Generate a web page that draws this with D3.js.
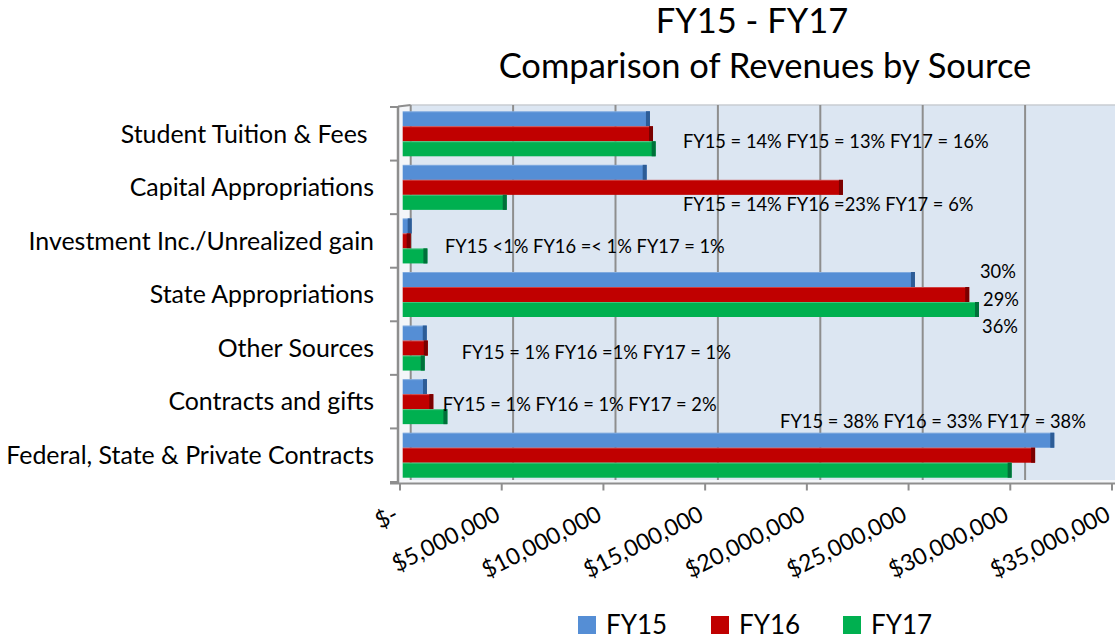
<!DOCTYPE html>
<html><head><meta charset="utf-8">
<script src="https://cdn.jsdelivr.net/npm/d3@7"></script>
<style>body{margin:0;background:#fff;} svg{display:block;font-family:Lato,'Open Sans',sans-serif;}</style>
</head><body><svg id="c" width="1115" height="639"></svg>
<script>
// ---- data ----
const categories = ["Student Tuition & Fees\u00a0","Capital Appropriations","Investment Inc./Unrealized gain","State Appropriations","Other Sources","Contracts and gifts","Federal, State & Private Contracts"];
const seriesNames = ["FY15","FY16","FY17"];
const fy15 = [12120000, 11960000, 440000, 25110000, 1180000, 1190000, 31940000];
const fy16 = [12270000, 21580000, 390000, 27770000, 1230000, 1500000, 31000000];
const fy17 = [12400000, 5100000, 1210000, 28250000, 1080000, 2190000, 29850000];
const tickValues = [0, 5000000, 10000000, 15000000, 20000000, 25000000, 30000000, 35000000];
const tickLabels = ["$-","$5,000,000","$10,000,000","$15,000,000","$20,000,000","$25,000,000","$30,000,000","$35,000,000"];
const titleLines = ["FY15 - FY17","Comparison of Revenues by Source"];
const notes = ["FY15 = 14% FY15 = 13% FY17 = 16%","FY15 = 14% FY16 =23% FY17 = 6%","FY15 <1% FY16 =< 1% FY17 = 1%","30%","29%","36%","FY15 = 1% FY16 =1% FY17 = 1%","FY15 = 1% FY16 = 1% FY17 = 2%","FY15 = 38% FY16 = 33% FY17 = 38%"];
const noteCategory = [0,1,2,3,3,3,4,5,6];
const noteValue = [13740000,13740000,2070000,28300000,28450000,28400000,2890000,1960000,18500000];

// ---- style / layout ----
const values = [fy15, fy16, fy17];
const colors = ["#558ed5","#c00000","#00b050"];
const capColors = ["#2d5c96","#7a0000","#00703a"];
const noteOffset = [8,17.6,5.7,-22.6,5.4,32,4.8,3.2,-33.7];

const svg = d3.select("#c");
const y = d3.scaleBand(categories,[107,482]).paddingInner(0.16).paddingOuter(0.08);
const ys = d3.scaleBand(seriesNames,[0,y.bandwidth()]);
const yStep = d3.scaleBand(categories,[107,482]);
const xBar = d3.scaleLinear([0,35000000],[402.7,1116.7]);
const xBack = d3.scaleLinear([0,35000000],[410.7,1127.5]);
const xFront = d3.scaleLinear([0,35000000],[400,1112]);

const wallTop = 105, wallBot = 480, axisY = 483.5;
// back wall
svg.append("rect").attr("x",xBack(0)).attr("y",wallTop).attr("width",1115-xBack(0)).attr("height",wallBot-wallTop).attr("fill","#dce6f2");
svg.append("line").attr("x1",xBack(0)).attr("x2",1115).attr("y1",wallTop).attr("y2",wallTop).attr("stroke","#c8ccd2").attr("stroke-width",1.5);
// side wall
svg.append("path").attr("d",`M398,${wallTop+2}L${xBack(0)},${wallTop}L${xBack(0)},${wallBot}L398,${axisY}Z`).attr("fill","#f4f6f9");
// gridlines
svg.selectAll(".grid").data(tickValues).join("line").attr("class","grid")
  .attr("x1",d=>xBack(d)).attr("x2",d=>xBack(d)).attr("y1",wallTop).attr("y2",wallBot)
  .attr("stroke","#8e8e8e").attr("stroke-width",2);
// floor
svg.append("path").attr("d",`M398,${axisY}L${xBack(0)},${wallBot}L1115,${wallBot}L1115,${axisY}Z`).attr("fill","#f4f6f9");
// left axis
svg.append("line").attr("x1",398).attr("x2",398).attr("y1",wallTop+1).attr("y2",axisY).attr("stroke","#8e8e8e").attr("stroke-width",2.5);
svg.append("line").attr("x1",398).attr("x2",xBack(0)).attr("y1",wallTop+1.5).attr("y2",wallTop).attr("stroke","#8e8e8e").attr("stroke-width",2);
svg.selectAll(".ytick").data(categories.concat(["end"])).join("line").attr("class","ytick")
  .attr("x1",390).attr("x2",398)
  .attr("y1",(d,i)=> i<categories.length ? yStep(d) : yStep(categories[i-1])+yStep.step())
  .attr("y2",(d,i)=> i<categories.length ? yStep(d) : yStep(categories[i-1])+yStep.step())
  .attr("stroke","#8e8e8e").attr("stroke-width",2);
// bottom axis
svg.append("line").attr("x1",390).attr("x2",1115).attr("y1",axisY).attr("y2",axisY).attr("stroke","#8e8e8e").attr("stroke-width",2);
svg.selectAll(".xtick").data(tickValues).join("line").attr("class","xtick")
  .attr("x1",d=>xFront(d)).attr("x2",d=>xFront(d)).attr("y1",axisY).attr("y2",axisY+7)
  .attr("stroke","#8e8e8e").attr("stroke-width",2);

// bars
seriesNames.forEach((s,si)=>{
  const g = svg.append("g");
  const data = categories.map((c,i)=>({c, v: values[si][i]}));
  g.selectAll("rect.bar").data(data).join("rect").attr("class","bar")
    .attr("x",xBar(0)).attr("y",d=>y(d.c)+ys(s)).attr("width",d=>xBar(d.v)-xBar(0)).attr("height",ys.bandwidth())
    .attr("fill",colors[si]);
  g.selectAll("rect.cap").data(data).join("rect").attr("class","cap")
    .attr("x",d=>xBar(d.v)-4).attr("y",d=>y(d.c)+ys(s)).attr("width",4).attr("height",ys.bandwidth())
    .attr("fill",capColors[si]);
  g.selectAll("line.hl").data(data).join("line").attr("class","hl")
    .attr("x1",xBar(0)).attr("x2",d=>xBar(d.v)-4).attr("y1",d=>y(d.c)+ys(s)+0.5).attr("y2",d=>y(d.c)+ys(s)+0.5)
    .attr("stroke","#ffffff").attr("stroke-opacity",0.25).attr("stroke-width",1);
});

// category labels
svg.selectAll(".clab").data(categories).join("text").attr("class","clab")
  .attr("x",374).attr("y",d=>yStep(d)+yStep.step()/2).attr("dy","0.35em")
  .attr("text-anchor","end").attr("font-size",24.9).attr("fill","#000").style("white-space","pre").text(d=>d);

// tick labels
svg.selectAll(".tlab").data(tickValues).join("text").attr("class","tlab")
  .attr("transform",d=>`translate(${xFront(d)-8},${504}) rotate(-27)`)
  .attr("dy","0.75em").attr("text-anchor","end").attr("font-size",23).attr("fill","#000")
  .text((d,i)=>tickLabels[i]);

// notes
svg.selectAll(".note").data(notes).join("text").attr("class","note")
  .attr("x",(d,i)=>xBar(noteValue[i]))
  .attr("y",(d,i)=>yStep(categories[noteCategory[i]])+yStep.step()/2+noteOffset[i])
  .attr("dy","0.35em").attr("font-size",18.3).attr("fill","#000").text(d=>d);

// title
svg.append("text").attr("x",752).attr("y",33).attr("text-anchor","middle").attr("font-size",34.5).text(titleLines[0]);
svg.append("text").attr("x",765).attr("y",78).attr("text-anchor","middle").attr("font-size",34.5).text(titleLines[1]);

// legend
const legX = [578,711,843];
const lg = svg.selectAll(".leg").data(seriesNames).join("g").attr("class","leg")
  .attr("transform",(d,i)=>`translate(${legX[i]},616)`);
lg.append("rect").attr("width",18).attr("height",18).attr("fill",(d,i)=>colors[i]);
lg.append("text").attr("x",28).attr("y",9).attr("dy","0.36em").attr("font-size",26).text(d=>d);
</script></body></html>
